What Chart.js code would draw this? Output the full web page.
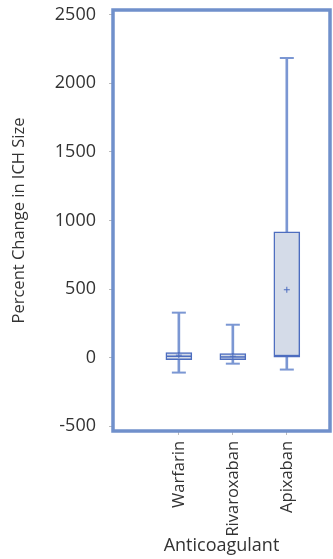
<!DOCTYPE html>
<html>
<head>
<meta charset="utf-8">
<script src="https://cdn.jsdelivr.net/npm/chart.js@4/dist/chart.umd.min.js"></script>
<style>
  html, body { margin: 0; padding: 0; background: #fff; overflow: hidden; }
  #wrap { position: relative; width: 333px; height: 559px; }
  #wrap canvas { display: block; }
</style>
</head>
<body>
<div id="wrap"><canvas id="boxChart"></canvas></div>
<script>
const drugs = ['Warfarin', 'Rivaroxaban', 'Apixaban']
const lowWhisker = [-109, -44, -87]
const q1 = [-15, -15, 0]
const median = [10, 5, 15]
const q3 = [36, 29, 918]
const highWhisker = [328, 240, 2185]
const mean = [18, 10, 495]
const yTicks = [-500, 0, 500, 1000, 1500, 2000, 2500]

const lineBlue = '#7b97d3'
const boxBlue = '#4d6dbf'
const boxFill = '#d4dbe8'
const textColor = '#333333'

const xs = drugs.map((d, i) => i + 1)

const frame = {
    id: 'frame',
    afterDraw(chart) {
        const a = chart.chartArea
        const ctx = chart.ctx
        ctx.save()
        ctx.strokeStyle = '#7090cb'
        ctx.lineWidth = 3.5
        ctx.strokeRect(a.left, a.top, a.right - a.left, a.bottom - a.top)
        ctx.restore()
    }
}

const boxData = {
    datasets: [
        {
            type: 'bar',
            label: 'whisker',
            data: xs.map((x, i) => ({ x: x, y: [lowWhisker[i], highWhisker[i]] })),
            backgroundColor: lineBlue,
            borderWidth: 0,
            barThickness: 2,
            grouped: false,
            order: 4
        },
        {
            type: 'bar',
            label: 'box',
            data: xs.map((x, i) => ({ x: x, y: [q1[i], q3[i]] })),
            backgroundColor: boxFill,
            borderColor: boxBlue,
            borderWidth: 1.5,
            borderSkipped: false,
            barThickness: 26,
            grouped: false,
            order: 3
        },
        {
            type: 'line',
            label: 'caps',
            data: xs.map((x, i) => ({ x: x, y: highWhisker[i] })).concat(xs.map((x, i) => ({ x: x, y: lowWhisker[i] }))),
            showLine: false,
            pointStyle: 'line',
            pointRadius: 7,
            borderColor: lineBlue,
            borderWidth: 2,
            order: 2
        },
        {
            type: 'line',
            label: 'median',
            data: xs.map((x, i) => ({ x: x, y: median[i] })),
            showLine: false,
            pointStyle: 'line',
            pointRadius: 12.5,
            borderColor: boxBlue,
            borderWidth: 1.5,
            order: 1
        },
        {
            type: 'line',
            label: 'mean',
            data: xs.map((x, i) => ({ x: x, y: mean[i] })),
            showLine: false,
            pointStyle: 'cross',
            pointRadius: 3,
            borderColor: boxBlue,
            borderWidth: 1,
            order: 0
        }
    ]
}

// keep the plot frame where the picture has it, not where the labels push it
const noPad = (scale) => {
    scale.paddingLeft = 0
    scale.paddingRight = 0
    scale.paddingTop = 0
    scale.paddingBottom = 0
}

const boxConfig = {
    type: 'bar',
    data: boxData,
    plugins: [frame],
    options: {
        responsive: true,
        maintainAspectRatio: false,
        animation: false,
        layout: { autoPadding: false, padding: { top: 10, right: 3, left: 0, bottom: 0 } },
        plugins: {
            legend: { display: false },
            tooltip: { enabled: false }
        },
        scales: {
            x: {
                type: 'linear',
                min: -0.22,
                max: 3.8,
                offset: false,
                afterBuildTicks: (scale) => { scale.ticks = xs.map(v => ({ value: v })) },
                afterFit: (scale) => { scale.height = 128; noPad(scale) },
                border: { display: false },
                grid: { offset: false, drawOnChartArea: false, tickLength: 4, color: '#bbbbbb' },
                ticks: {
                    autoSkip: false,
                    minRotation: 90,
                    maxRotation: 90,
                    padding: 6,
                    color: textColor,
                    font: { family: 'Open Sans', size: 16.5 },
                    callback: (v) => drugs[v - 1]
                },
                title: {
                    display: true,
                    text: 'Anticoagulant',
                    color: textColor,
                    font: { family: 'Open Sans', size: 18 },
                    padding: { top: 0, bottom: 2 }
                }
            },
            y: {
                min: -535,
                max: 2535,
                afterBuildTicks: (scale) => { scale.ticks = yTicks.map(v => ({ value: v })) },
                afterFit: (scale) => { scale.width = 113; noPad(scale) },
                border: { display: false },
                grid: { drawOnChartArea: false, tickLength: 4, color: '#bbbbbb' },
                ticks: {
                    padding: 13,
                    color: textColor,
                    font: { family: 'Open Sans', size: 18 },
                    callback: (v) => String(v)
                },
                title: {
                    display: true,
                    text: 'Percent Change in ICH Size',
                    color: textColor,
                    font: { family: 'Open Sans', size: 16.5 },
                    padding: { top: 9, bottom: 0 }
                }
            }
        }
    }
}

const boxChart = new Chart(
    document.getElementById('boxChart'),
    boxConfig
)
</script>
</body>
</html>
